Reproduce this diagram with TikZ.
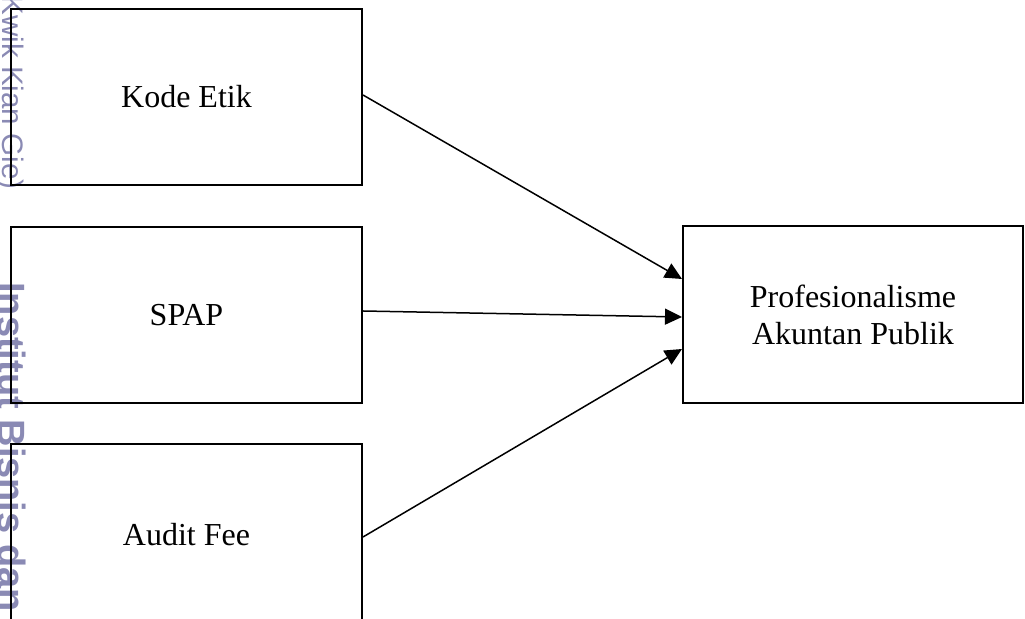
\documentclass[tikz,border=0pt]{standalone}
\usepackage{fontspec}
\setmainfont{Liberation Serif}
\newfontfamily\wmfont{Liberation Sans}
\usetikzlibrary{arrows.meta}
\definecolor{wmcol}{RGB}{138,138,180}
\begin{document}
\begin{tikzpicture}[x=0.5pt,y=-0.5pt,
  varbox/.style={draw=black, line width=1pt, rectangle, inner sep=0pt,
    font=\fontsize{16pt}{18.5pt}\selectfont, align=center},
  link/.style={line width=0.75pt, -{Triangle[length=8.5pt,width=8pt]}},
  wm/.style={text=wmcol, rotate=-90, inner sep=0pt}]
\useasboundingbox (0,0) rectangle (1025,619);
\begin{scope}
\clip (0,0) rectangle (1025,619);
% watermark
\node[wm, anchor=base east, font=\wmfont\fontsize{14.8pt}{16pt}\selectfont] (wm1) at (3,190) {(Kwik Kian Gie)};
\node[wm, anchor=base west, font=\wmfont\bfseries\fontsize{19pt}{21pt}\selectfont] (wm2) at (-2,282) {Institut Bisnis dan};
% boxes
\node[varbox, minimum width=175.5pt, minimum height=88pt] (ke) at (186.5,97) {Kode Etik};
\node[varbox, minimum width=175.5pt, minimum height=88pt] (sp) at (186.5,315) {SPAP};
\node[varbox, minimum width=175.5pt, minimum height=91pt] (af) at (186.5,535) {Audit Fee};
\node[varbox, minimum width=170pt, minimum height=88.5pt] (pa) at (853,314.5) {Profesionalisme\\Akuntan Publik};
% connectors
\draw[link] ([yshift=1pt]ke.east) -- ([yshift=17.75pt]pa.west);
\draw[link] ([yshift=2pt]sp.east) -- ([yshift=-1.25pt]pa.west);
\draw[link] ([yshift=-1pt]af.east) -- ([yshift=-17.25pt]pa.west);
\end{scope}
\end{tikzpicture}
\end{document}
